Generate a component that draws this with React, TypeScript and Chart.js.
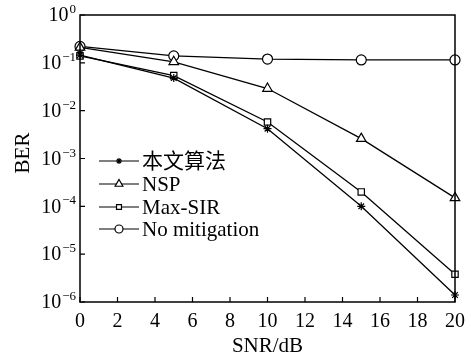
import React, { useEffect, useRef } from "react";
import { Chart, registerables } from "chart.js";
import { drawPoint } from "chart.js/helpers";

Chart.register(...registerables);

const snr = [0, 5, 10, 15, 20];
const proposed = [0.145, 0.048, 0.0042, 0.0001, 1.4e-6];
const nsp = [0.21, 0.105, 0.029, 0.0026, 0.00015];
const maxSir = [0.14, 0.054, 0.0058, 0.0002, 3.8e-6];
const noMitigation = [0.22, 0.14, 0.12, 0.115, 0.115];
const seriesLabels = ["本文算法", "NSP", "Max-SIR", "No mitigation"];
const seriesStyles = ["star", "triangle", "rect", "circle"];
const yExponents = [0, -1, -2, -3, -4, -5, -6];
const xTicks = [0, 2, 4, 6, 8, 10, 12, 14, 16, 18, 20];

const FONT = '"Liberation Serif", "Times New Roman", "Noto Sans CJK SC", serif';

const radiusFor = (s: string) => (s === "star" ? 4 : s === "circle" ? 5 : s === "rect" ? 4.5 : 5.5);
const legendRadiusFor = (s: string) => (s === "star" ? 3 : s === "circle" ? 4 : s === "rect" ? 3.5 : 4.5);

const customPlugin = {
  id: "custom",
  afterDraw(chart: any) {
    const { ctx, chartArea } = chart;
    const { left, right, top, bottom } = chartArea;
    const xs = chart.scales.x;
    const ys = chart.scales.y;
    ctx.save();
    ctx.strokeStyle = "#000";
    ctx.lineWidth = 1.5;
    ctx.strokeRect(left, top, right - left, bottom - top);
    ctx.lineWidth = 1.2;
    ctx.beginPath();
    xTicks.forEach((v) => {
      const x = xs.getPixelForValue(v);
      ctx.moveTo(x, bottom);
      ctx.lineTo(x, bottom - 5);
    });
    yExponents.forEach((e) => {
      const y = ys.getPixelForValue(Math.pow(10, e));
      ctx.moveTo(left, y);
      ctx.lineTo(left + 5, y);
    });
    ctx.stroke();

    // y tick labels
    ctx.fillStyle = "#000";
    yExponents.forEach((e) => {
      const y = ys.getPixelForValue(Math.pow(10, e));
      const exp = e === 0 ? "0" : "\u2212" + String(-e);
      ctx.font = `13px ${FONT}`;
      const ew = ctx.measureText(exp).width;
      const expRight = left - 4;
      ctx.textAlign = "left";
      ctx.textBaseline = "alphabetic";
      ctx.fillText(exp, expRight - ew, y - 2);
      ctx.font = `20px ${FONT}`;
      ctx.textAlign = "right";
      ctx.textBaseline = "middle";
      ctx.fillText("10", expRight - ew - 1, y + 1);
    });

    // axis titles
    ctx.font = `21px ${FONT}`;
    ctx.textAlign = "center";
    ctx.textBaseline = "alphabetic";
    ctx.fillText("SNR/dB", (left + right) / 2, 352);
    ctx.save();
    ctx.translate(22, 153);
    ctx.rotate(-Math.PI / 2);
    ctx.textBaseline = "middle";
    ctx.fillText("BER", 0, 1);
    ctx.restore();

    // legend
    const rows = [161, 184, 207, 229];
    chart.data.datasets.forEach((ds: any, i: number) => {
      const y = rows[i];
      ctx.strokeStyle = "#000";
      ctx.lineWidth = 1.2;
      ctx.beginPath();
      ctx.moveTo(99, y);
      ctx.lineTo(139, y);
      ctx.stroke();
      ctx.fillStyle = "#fff";
      ctx.lineWidth = 1.2;
      drawPoint(
        ctx,
        { pointStyle: ds.pointStyle, radius: legendRadiusFor(ds.pointStyle), borderWidth: 1.2, rotation: 0 } as any,
        119,
        y
      );
      ctx.fillStyle = "#000";
      ctx.font = `21px ${FONT}`;
      ctx.textAlign = "left";
      ctx.textBaseline = "middle";
      ctx.fillText(ds.label, 142, y + 1);
    });
    ctx.restore();
  },
};

export default function App() {
  const ref = useRef<HTMLCanvasElement | null>(null);
  useEffect(() => {
    if (!ref.current) return;
    const series = [proposed, nsp, maxSir, noMitigation];
    const chart = new Chart(ref.current, {
      type: "line",
      data: {
        datasets: series.map((vals, i) => ({
          label: seriesLabels[i],
          data: snr.map((x, j) => ({ x, y: vals[j] })),
          borderColor: "#000",
          borderWidth: 1.3,
          backgroundColor: "#fff",
          pointStyle: seriesStyles[i] as any,
          pointRadius: radiusFor(seriesStyles[i]),
          pointBorderWidth: 1.2,
          pointBorderColor: "#000",
          pointBackgroundColor: "#fff",
          tension: 0,
          clip: false as any,
        })),
      },
      options: {
        animation: false,
        responsive: true,
        maintainAspectRatio: false,
        layout: { padding: { top: 15, right: 16, left: 0, bottom: 0 } },
        plugins: { legend: { display: false }, tooltip: { enabled: false } },
        scales: {
          x: {
            type: "linear",
            min: 0,
            max: 20,
            grid: { display: false, drawTicks: false },
            border: { display: false },
            ticks: {
              stepSize: 2,
              color: "#000",
              padding: 8,
              maxRotation: 0,
              font: { family: FONT, size: 20 },
            },
            afterFit: (s: any) => {
              s.height = 53;
              s.paddingLeft = 0;
              s.paddingRight = 0;
            },
          },
          y: {
            type: "logarithmic",
            min: 1e-6,
            max: 1,
            grid: { display: false, drawTicks: false },
            border: { display: false },
            ticks: { display: false },
            afterFit: (s: any) => {
              s.width = 80;
              s.paddingTop = 0;
              s.paddingBottom = 0;
            },
          },
        },
      },
      plugins: [customPlugin],
    });
    return () => chart.destroy();
  }, []);
  return (
    <div style={{ position: "fixed", left: 0, top: 0, width: 471, height: 355, background: "#fff" }}>
      <canvas ref={ref} />
    </div>
  );
}
